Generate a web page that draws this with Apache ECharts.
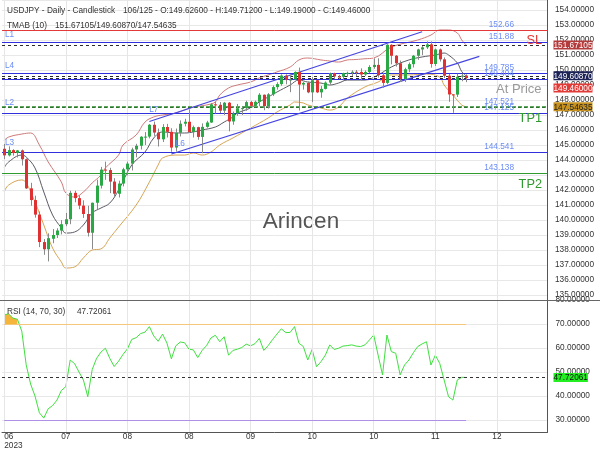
<!DOCTYPE html>
<html><head><meta charset="utf-8">
<script src="https://cdn.jsdelivr.net/npm/echarts@6/dist/echarts.min.js"></script>
<style>html,body{margin:0;padding:0;background:#fff}#c{width:600px;height:450px}</style>
</head><body><div id="c"></div><script>
// ---------- DATA ----------
const opens = [144.75,144.31,144.66,144.47,144.64,144.05,142.11,141.33,140.36,138.53,
138.05,138.75,139.00,139.30,139.72,140.05,141.81,141.46,140.96,140.40,
139.15,141.15,142.29,143.36,143.33,142.56,141.75,142.43,143.38,143.76,
144.70,144.95,145.55,145.56,146.35,145.83,145.38,146.20,145.88,144.83,
145.82,146.42,146.55,145.87,146.19,145.54,146.21,146.50,147.71,147.68,
147.29,147.82,146.57,147.10,147.45,147.46,147.86,147.61,147.88,148.35,
147.60,148.38,148.86,149.06,149.63,149.33,149.37,149.87,149.03,149.14,
148.51,149.32,148.51,148.74,149.16,149.80,149.57,149.55,149.79,149.81,
149.88,149.87,149.70,149.87,150.20,150.34,149.65,149.14,151.68,150.95,
150.45,149.39,150.05,150.39,150.95,151.37,151.51,151.71,150.40,151.37,
150.71,149.62,148.37,148.36,149.55,149.626];
const highs = [145.07,144.91,144.72,144.67,144.70,144.10,142.48,141.62,140.57,138.73,
139.11,139.40,139.45,139.99,140.47,141.95,141.95,141.64,141.31,140.95,
141.16,142.69,143.54,143.89,143.48,142.79,142.62,143.48,143.89,144.82,
145.08,145.59,145.86,146.40,146.56,146.10,146.39,146.41,146.12,146.10,
146.64,146.75,147.37,146.29,146.22,146.44,146.61,147.80,147.88,147.87,
147.87,147.87,147.23,147.74,147.53,147.95,147.94,147.96,148.46,148.37,
148.46,148.97,149.18,149.71,149.71,149.70,149.91,150.16,149.20,149.23,
149.53,149.34,148.94,149.24,149.83,149.82,149.68,149.82,149.89,149.98,
150.00,150.11,149.97,150.32,150.78,150.78,149.81,151.72,151.72,151.00,
150.63,150.15,150.50,151.00,151.42,151.60,151.91,151.91,151.43,151.43,
150.84,149.74,148.38,149.75,149.76,149.712];
const lows = [144.06,144.24,144.29,144.17,143.63,142.07,140.95,140.16,138.19,137.68,
137.24,138.45,138.80,139.04,139.59,139.72,141.18,140.72,140.14,138.90,
138.06,140.70,142.10,142.68,141.79,141.54,141.50,142.24,142.98,143.30,
144.18,144.70,145.00,145.44,145.61,144.90,145.20,145.50,144.55,144.56,
145.57,146.24,145.80,145.50,145.35,144.45,146.15,146.47,147.10,147.13,
147.00,145.91,146.35,146.95,147.00,147.28,147.55,147.52,147.58,147.32,
147.43,148.26,148.69,148.95,149.05,148.52,149.35,147.30,148.69,148.45,
147.86,148.46,148.15,148.70,149.04,149.40,149.40,149.31,149.54,149.60,
149.58,149.32,149.61,149.80,150.08,149.50,148.81,149.05,150.38,150.23,
149.20,149.20,149.85,150.17,150.68,150.99,151.40,150.16,150.27,150.56,
149.47,147.88,147.15,148.20,149.25,149.19];
const closes = [144.31,144.66,144.47,144.64,144.05,142.11,141.33,140.36,138.53,138.05,
138.79,139.00,139.30,139.72,140.05,141.81,141.46,140.96,140.40,139.15,
141.15,142.29,143.36,143.33,142.56,141.75,142.43,143.38,143.76,144.70,
144.95,145.55,145.56,146.35,145.83,145.38,146.20,145.88,144.83,145.82,
146.42,146.55,145.87,146.19,145.54,146.21,146.50,147.71,147.68,147.29,
147.82,146.57,147.10,147.45,147.46,147.86,147.61,147.88,148.35,147.60,
148.38,148.86,149.06,149.63,149.33,149.37,149.87,149.03,149.14,148.51,
149.32,148.51,148.74,149.16,149.80,149.57,149.55,149.79,149.81,149.88,
149.87,149.70,149.87,150.20,150.34,149.65,149.14,151.68,150.95,150.45,
149.39,150.05,150.39,150.95,151.37,151.51,151.71,150.40,151.37,150.71,
149.62,148.37,148.36,149.55,149.626,149.46];

const slotCount = 124;                 // category slots incl. empty future bars
const xTickEvery = 14;
const xTickLabels = ['06\n2023','07','08','08','09','10','10','11','12'];

const tmabUpper = [[0,145.3],[1,145.53],[4,145.73],[6,145.8],[8,145.0],[10,143.87],[13,142.53],[14,141.8],[16,141.53],[18,141.87],[20,142.47],[22,143.0],[23,143.47],[26,144.33],[27,145.0],[30,145.67],[32,146.53],[34,146.87],[36,147.0],[39,147.13],[41,147.33],[43,147.53],[46,147.67],[48,147.87],[49,148.33],[51,148.8],[53,149.0],[56,149.2],[58,149.47],[60,149.67],[62,149.87],[65,150.2],[67,150.67],[69,150.8],[72,150.67],[74,150.6],[76,150.53],[78,150.67],[80,150.7],[82,150.75],[84,150.8],[88,151.53],[94,152.0],[97,152.33],[99,152.67],[101,152.67],[103,152.47],[104,152.0],[105,151.67105]];
const tmabMid = [[0,143.47],[1,143.87],[4,144.33],[5,144.2],[7,143.47],[9,141.87],[11,140.33],[13,139.47],[14,139.13],[16,139.2],[18,139.67],[20,140.47],[22,140.8],[24,141.13],[26,142.0],[29,143.67],[32,144.53],[34,145.47],[36,145.87],[39,145.8],[41,145.8],[43,145.87],[45,146.0],[48,146.2],[50,146.53],[52,146.87],[53,147.13],[56,147.47],[58,147.87],[60,148.2],[62,148.53],[65,149.0],[67,149.33],[69,149.2],[72,149.13],[74,149.0],[76,149.13],[78,149.33],[82,149.33],[85,149.67],[88,150.2],[92,150.67],[95,150.87],[98,151.0],[100,151.13],[101,151.0],[103,150.47],[104,149.9],[105,149.6087]];
const tmabLower = [[0,141.87],[1,142.33],[4,142.67],[5,142.47],[7,141.2],[9,139.67],[11,138.13],[13,137.2],[14,136.8],[16,136.87],[18,137.47],[20,138.0],[22,138.07],[24,138.8],[26,139.53],[30,141.0],[33,142.53],[35,143.67],[36,144.13],[39,144.33],[41,144.33],[43,144.47],[45,144.33],[47,144.53],[49,145.0],[52,145.47],[56,146.13],[60,146.8],[62,147.2],[65,147.67],[66,147.87],[68,147.8],[69,147.67],[72,147.47],[74,147.33],[76,147.53],[78,148.13],[82,148.87],[85,149.2],[88,149.67],[92,149.67],[96,149.73],[99,149.53],[100,149.0],[102,148.33],[104,147.67],[105,147.54635]];

const rsi = [73.8,74.2,72.4,72.0,67.0,53.0,45.0,40.0,33.0,30.8,
34.7,36.0,38.3,42.3,43.9,55.0,53.5,50.0,46.7,39.7,
51.0,55.7,58.3,59.9,55.7,52.3,54.5,57.3,59.6,63.6,
64.3,66.0,66.6,68.9,65.0,62.8,65.8,62.0,55.5,60.9,
62.5,62.2,59.5,59.2,56.0,59.0,61.0,64.2,65.3,62.6,
64.7,57.0,59.0,59.5,60.2,61.6,60.9,61.8,64.0,59.0,
61.0,63.5,65.8,68.0,66.4,66.5,68.9,62.0,60.6,55.0,
59.4,52.2,54.3,57.0,61.3,59.4,59.9,60.8,61.0,61.3,
60.8,60.6,61.3,63.3,65.4,57.0,48.8,65.4,58.5,57.8,
48.8,52.9,55.0,58.0,60.6,61.7,62.6,52.9,57.0,53.6,
46.7,39.7,38.3,46.7,47.8,47.72061];
const rsiLevels = [70, 30];

const levelValues = [152.66, 151.88, 149.785, 149.404, 147.521, 147.125, 144.541, 143.138];
const levelTexts  = ['152.66','151.88','149.785','149.404','147.521','147.125','144.541','143.138'];
const levelTags   = ['', 'L1', 'L4', '', 'L2', '', 'L3', ''];
const levelNotes  = ['SL', '', '', '', '', 'TP1', '', 'TP2'];
const tmabLast = [151.67105, 149.60870, 147.54635];
const channelUpper = [[33,146.57],[95,152.55]];
const channelLower = [[38,144.4],[108,150.91]];
const channelTags = [['L7',34,147.33],['L6',40,145.1]];

// ---------- STYLE ----------
const F = 'Liberation Sans, Arial, sans-serif';
const FS = 8.25;
const mainMin = 134.667, mainMax = 154.667;
const rsiMin = 25, rsiMax = 80;
const levelKinds = ['red','blue','blue','blue','greenDash','blue','blue','green'];
const tagGap = [0, 3, 4, 0, 0, 0, 5, 0];
const kindStyle = {
  red:{color:'#e23a3a',type:'solid',width:1},
  blue:{color:'#3030dc',type:'solid',width:1},
  green:{color:'#2f9a2f',type:'solid',width:1},
  greenDash:{color:'#2a8a2a',type:[4,2],width:1.5}
};
const noteStyle = {SL:{color:'#e53935',dy:4}, TP1:{color:'#2e9a2e',dy:-1}, TP2:{color:'#2e9a2e',dy:5}};
const lblBlue = '#6b8cf5';
const hidden = {color:'rgba(0,0,0,0)', width:0};
const lastClose = closes[closes.length-1];
const rsiLast = rsi[rsi.length-1];
const n = opens.length;

const categories = [];
for (let i = 0; i < slotCount; i++) categories.push(String(i));
const tickIdx = xTickLabels.map((_, k) => k * xTickEvery);

const candleData = opens.map((o, i) => [i, o, closes[i], lows[i], highs[i]]);

function renderCandle(params, api) {
  const i = api.value(0);
  const o = api.value(1), c = api.value(2), l = api.value(3), h = api.value(4);
  const pO = api.coord([i, o]), pC = api.coord([i, c]);
  const pH = api.coord([i, h]), pL = api.coord([i, l]);
  const bw = api.size([1, 0])[0] * 0.68;
  const x = Math.round(pO[0]) + 0.5;
  const top = Math.min(pO[1], pC[1]);
  const hgt = Math.max(Math.abs(pC[1] - pO[1]), 1);
  const up = c >= o;
  return {type:'group', children:[
    {type:'line', shape:{x1:x, y1:pH[1], x2:x, y2:pL[1]}, style:{stroke:'#8a8a8a', lineWidth:1}},
    {type:'rect', shape:{x:x - bw/2, y:top, width:bw, height:hgt}, style:{fill: up ? '#2aa845' : '#df3131'}}
  ]};
}

// level markLines: drawn lines first, then label-only items
const levelLines = [];
tmabLast.forEach(v => levelLines.push({yAxis: v, lineStyle:{color:'#2a2a2a', type:[3,3], width:1}, label:{show:false}}));
levelLines.push({yAxis: lastClose, lineStyle:{color:'#2a2a2a', type:[3,3], width:1},
  label:{show:true, formatter:'At Price', position:'insideEndBottom', distance:[6, 5], color:'#9a9a9a', fontSize:13, fontFamily:F}});
levelValues.forEach((v, k) => {
  const st = kindStyle[levelKinds[k]];
  const note = levelNotes[k];
  levelLines.push({yAxis: v, lineStyle: {color: st.color, type: st.type, width: st.width, opacity: 1},
    label: note ? {show:true, formatter: note, position:'insideEndBottom', distance:[5.5, noteStyle[note].dy],
      color: noteStyle[note].color, fontSize: 12.75, fontFamily: F} : {show:false}});
});
levelValues.forEach((v, k) => {
  levelLines.push({yAxis: v, lineStyle: hidden,
    label:{show:true, formatter: levelTexts[k], position:'insideEndTop', distance:[33.5, 1.5], color: lblBlue, fontSize: FS, fontFamily: F}});
  if (levelTags[k]) levelLines.push({yAxis: v, lineStyle: hidden,
    label:{show:true, formatter: levelTags[k], position:'insideStartTop', distance:[3, tagGap[k]], color: lblBlue, fontSize: FS, fontFamily: F}});
});

const vGrid = tickIdx.map(i => ({xAxis: i}));

const tagKey = v => {
  if (Math.abs(v - tmabLast[0]) < 1e-6) return 'u';
  if (Math.abs(v - tmabLast[1]) < 1e-6) return 'm';
  if (Math.abs(v - tmabLast[2]) < 1e-6) return 'l';
  return 'c';
};
const tagPad = [1, 0, 0, 0];

const option = {
  animation: false,
  backgroundColor: '#fff',
  textStyle: {fontFamily: F},
  grid: [
    {left: 2, top: 0, width: 545.5, height: 300, outerBoundsMode: 'none', containLabel: false},
    {left: 2, top: 300, width: 545.5, height: 132, outerBoundsMode: 'none', containLabel: false}
  ],
  xAxis: [
    {type:'category', gridIndex:0, data: categories, boundaryGap:true,
      axisLine:{show:false}, axisTick:{show:false}, axisLabel:{show:false}, splitLine:{show:false}},
    {type:'category', gridIndex:1, data: categories, boundaryGap:true,
      axisLine:{show:true, lineStyle:{color:'#555'}}, axisTick:{show:false}, splitLine:{show:false},
      axisLabel:{show:true, interval: (i) => i % xTickEvery === 0, margin: 0, lineHeight: 9,
        fontSize: FS, color:'#333', fontFamily: F, alignMinLabel: 'left',
        formatter: (val, i) => xTickLabels[Math.round(i / xTickEvery)] || ''}}
  ],
  yAxis: [
    {type:'value', gridIndex:0, position:'right', min: mainMin, max: mainMax, minInterval:1, maxInterval:1, splitNumber:20,
      axisLine:{show:true, lineStyle:{color:'#555'}}, axisTick:{show:false},
      splitLine:{show:true, lineStyle:{color:'#e8e8e8'}},
      axisLabel:{margin:7.5, fontSize:FS, color:'#333', fontFamily:F, showMinLabel:false, showMaxLabel:false,
        formatter: v => v.toFixed(5)}},
    {type:'value', gridIndex:1, position:'right', min: rsiMin, max: rsiMax, minInterval:10, maxInterval:10, splitNumber:6,
      axisLine:{show:true, lineStyle:{color:'#555'}}, axisTick:{show:false},
      splitLine:{show:true, lineStyle:{color:'#e8e8e8'}},
      axisLabel:{margin:8, fontSize:FS, color:'#333', fontFamily:F, showMinLabel:false,
        formatter: v => v.toFixed(5)}},
    {type:'value', gridIndex:0, position:'right', min: mainMin, max: mainMax, z: 10,
      axisLine:{show:false}, axisTick:{show:false}, splitLine:{show:false},
      axisLabel:{show:true, customValues:[tmabLast[0], tmabLast[1], lastClose, tmabLast[2]], margin:6,
        fontSize:FS, fontFamily:F, showMinLabel:true, showMaxLabel:true,
        formatter: v => { const k = tagKey(v); return (k === 'c' ? '{g| }\n' : '') + '{' + k + '|' + v.toFixed(5) + '}'; },
        rich:{
          u:{backgroundColor:'#b43b3b', color:'#fff', padding:tagPad, fontSize:FS, fontFamily:F},
          m:{backgroundColor:'#1c2457', color:'#fff', padding:tagPad, fontSize:FS, fontFamily:F},
          c:{backgroundColor:'#e23a36', color:'#fff', padding:tagPad, fontSize:FS, fontFamily:F},
          l:{backgroundColor:'#c8921f', color:'#222', padding:tagPad, fontSize:FS, fontFamily:F},
          g:{lineHeight:20, fontSize:2}
        }}},
    {type:'value', gridIndex:1, position:'right', min: rsiMin, max: rsiMax, z: 10,
      axisLine:{show:false}, axisTick:{show:false}, splitLine:{show:false},
      axisLabel:{show:true, customValues:[rsiLast], margin:6, fontSize:FS, fontFamily:F,
        formatter: v => '{r|' + v.toFixed(5) + '}',
        rich:{r:{backgroundColor:'#22ee22', color:'#111', padding:tagPad, fontSize:FS, fontFamily:F}}}}
  ],
  series: [
    {name:'tmabUpper', type:'line', xAxisIndex:0, yAxisIndex:0, data: tmabUpper, smooth:0.4, showSymbol:false, z:2,
      lineStyle:{color:'#cf7a7a', width:1},
      markLine:{silent:true, symbol:['none','none'], animation:false, label:{show:false},
        lineStyle:{color:'#e6e6e6', type:'solid', width:1}, data: vGrid}},
    {name:'tmabMid', type:'line', xAxisIndex:0, yAxisIndex:0, data: tmabMid, smooth:0.4, showSymbol:false, z:3,
      lineStyle:{color:'#5a5a66', width:1},
      markLine:{silent:true, symbol:['none','none'], animation:false, data: levelLines}},
    {name:'tmabLower', type:'line', xAxisIndex:0, yAxisIndex:0, data: tmabLower, smooth:0.4, showSymbol:false, z:3,
      lineStyle:{color:'#d7a555', width:1},
      markLine:{silent:true, symbol:['none','none'], animation:false, label:{show:false},
        lineStyle:{color:'#4545e0', type:'solid', width:1.2},
        data:[[{coord:channelUpper[0]},{coord:channelUpper[1]}],[{coord:channelLower[0]},{coord:channelLower[1]}]]},
      markPoint:{silent:true, symbol:'circle', symbolSize:1, itemStyle:{color:'rgba(0,0,0,0)'},
        label:{show:true, position:'inside', color:lblBlue, fontSize:FS, fontFamily:F, formatter: p => p.name},
        data: channelTags.map(t => ({name:t[0], coord:[t[1], t[2]]}))}},
    {name:'candles', type:'custom', xAxisIndex:0, yAxisIndex:0, data: candleData, renderItem: renderCandle,
      encode:{x:0, y:[1,2,3,4]}, z:5, clip:true},
    {name:'rsiFill', type:'line', xAxisIndex:1, yAxisIndex:1, z:2,
      data: rsi.map((v, i) => v >= rsiLevels[0] ? [i, v] : null).filter(d => d),
      showSymbol:false, lineStyle:{width:0}, areaStyle:{origin: rsiLevels[0], color:'#f5b53a', opacity:1}},
    {name:'rsi', type:'line', xAxisIndex:1, yAxisIndex:1, data: rsi.map((v, i) => [i, v]), showSymbol:false, z:4,
      lineStyle:{color:'#3fe03f', width:1},
      markLine:{silent:true, symbol:['none','none'], animation:false, label:{show:false},
        data: [
          ...vGrid.map(d => ({xAxis: d.xAxis, lineStyle:{color:'#e6e6e6', width:1, type:'solid'}})),
          [{coord:[0, rsiLevels[0]]},{coord:[n-1, rsiLevels[0]], lineStyle:{color:'#f5c77a', width:1, type:'solid'}}],
          [{coord:[0, rsiLevels[1]]},{coord:[n-1, rsiLevels[1]], lineStyle:{color:'#b090e6', width:1, type:'solid'}}],
          {yAxis: rsiLast, lineStyle:{color:'#333', type:[3,3], width:1}}
        ]}}
  ],
  graphic: [
    {type:'line', silent:true, z:50, shape:{x1:0, y1:300.5, x2:600, y2:300.5}, style:{stroke:'#666', lineWidth:1}},
    {type:'text', silent:true, z:60, style:{x:7, y:10.5, text:'USDJPY - Daily - Candlestick', fontSize:FS, fontFamily:F, fill:'#333', verticalAlign:'middle'}},
    {type:'text', silent:true, z:60, style:{x:123, y:10.5, fontSize:FS, fontFamily:F, fill:'#333', verticalAlign:'middle',
      text: n + '/125 - O:' + opens[n-1].toFixed(5) + ' - H:' + highs[n-1].toFixed(5) + ' - L:' + lows[n-1].toFixed(5) + ' - C:' + closes[n-1].toFixed(5)}},
    {type:'text', silent:true, z:60, style:{x:7, y:25.5, text:'TMAB (10)', fontSize:FS, fontFamily:F, fill:'#333', verticalAlign:'middle'}},
    {type:'text', silent:true, z:60, style:{x:55, y:25.5, text: tmabLast.map(v => v.toFixed(5)).join('/'), fontSize:FS, fontFamily:F, fill:'#333', verticalAlign:'middle'}},
    {type:'text', silent:true, z:60, style:{x:7, y:311.5, text:'RSI (14, 70, 30)', fontSize:FS, fontFamily:F, fill:'#333', verticalAlign:'middle'}},
    {type:'text', silent:true, z:60, style:{x:77, y:311.5, text: rsiLast.toFixed(5), fontSize:FS, fontFamily:F, fill:'#333', verticalAlign:'middle'}},
    {type:'text', silent:true, z:1, style:{x:301, y:222, text:'Arincen', fontSize:22.5, fontFamily:F, fill:'#555', align:'center', verticalAlign:'middle'}}
  ]
};
const chart = echarts.init(document.getElementById('c'), null, {width:600, height:450});
chart.setOption(option);
</script></body></html>
